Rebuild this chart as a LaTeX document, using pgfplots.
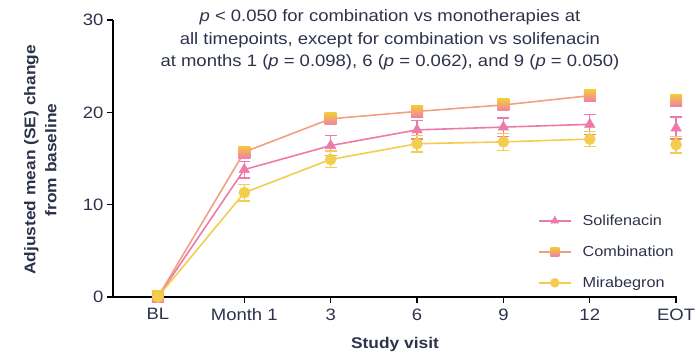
\documentclass[border=0pt]{standalone}
\usepackage{pgfplots}
\pgfplotsset{compat=1.18}
\usepackage{fontspec}
\setmainfont{Liberation Sans}[FakeStretch=1.12]
\definecolor{solpink}{RGB}{238,122,170}
\definecolor{combline}{RGB}{242,160,130}
\definecolor{combyellow}{RGB}{246,200,60}
\definecolor{combpink}{RGB}{240,128,165}
\definecolor{miryellow}{RGB}{242,205,80}
\definecolor{txt}{RGB}{45,50,75}
\pgfdeclareverticalshading{sqshade}{100bp}{color(0bp)=(combpink); color(25bp)=(combpink); color(75bp)=(combyellow); color(100bp)=(combyellow)}
\pgfdeclareplotmark{gsquare}{%
  \pgfpathrectangle{\pgfpoint{-\pgfplotmarksize}{-\pgfplotmarksize}}{\pgfpoint{2\pgfplotmarksize}{2\pgfplotmarksize}}%
  \pgfshadepath{sqshade}{0}%
  \pgfusepath{discard}}
\begin{document}
\begin{tikzpicture}
\useasboundingbox (0,0) rectangle (697pt,358pt);
\begin{axis}[
  at={(113pt,61pt)}, anchor=south west,
  scale only axis, width=564pt, height=277pt,
  xmin=-0.52, xmax=6.01, ymin=0, ymax=30,
  clip=false,
  axis x line*=bottom, axis y line*=left,
  axis line style={line width=1.4pt, black},
  xtick={1,2,3,4,5,6},
  xticklabels={Month 1,3,6,9,12,EOT},
  extra x ticks={0}, extra x tick labels={BL},
  extra x tick style={major tick style={draw opacity=0}},
  ytick={0,10,20,30},
  tick style={line width=1.4pt, black},
  major tick length=6pt,
  tick align=outside,
  /pgf/number format/assume math mode=true,
  tick label style={font=\fontsize{16.5}{19}\selectfont, text=txt},
  xticklabel style={yshift=-2pt},
  ylabel={Adjusted mean (SE) change\\from baseline},
  ylabel style={at={(axis description cs:-0.129,0.495)}, anchor=center, align=center, font=\bfseries\fontsize{15.5}{21}\selectfont, text=txt},
  xlabel={Study visit},
  xlabel style={at={(axis description cs:0.5,-0.173)}, anchor=center, font=\bfseries\fontsize{15.5}{19}\selectfont, text=txt},
  legend style={draw=none, fill=none, at={(axis description cs:0.748,0.312)}, anchor=north west, font=\fontsize{14.5}{17}\selectfont, text=txt, row sep=15pt,
    /tikz/every odd column/.append style={column sep=9pt}},
  legend cell align=left,
  legend image code/.code={\draw[mark repeat=2, mark phase=2, #1, line width=1.6pt, mark size=4.5pt] plot coordinates {(0cm,0cm) (0.56cm,0cm) (1.12cm,0cm)};},
  error bars/y dir=both, error bars/y explicit,
]
\addplot[solpink, line width=1.6pt, mark=triangle*, mark size=6pt, mark options={solid, fill=solpink, draw=solpink, line width=0.5pt},
  error bars/error bar style={line width=1.3pt, solpink},
  error bars/error mark options={rotate=90, mark size=6pt, line width=1.3pt, solpink}]
  coordinates {(0,0) +- (0,0) (1,13.8) +- (0,0.9) (2,16.4) +- (0,1.1) (3,18.1) +- (0,1.0) (4,18.4) +- (0,1.0) (5,18.7) +- (0,1.1)};
\addlegendentry{Solifenacin}
\addplot[combline, line width=1.6pt, mark=gsquare, mark size=6pt, error bars/y dir=none]
  coordinates {(0,0) (1,15.7) (2,19.3) (3,20.1) (4,20.8) (5,21.8)};
\addlegendentry{Combination}
\addplot[miryellow, line width=1.6pt, mark=*, mark size=5.5pt, mark options={solid, fill=miryellow, draw=miryellow, line width=0.5pt},
  error bars/error bar style={line width=1.3pt, miryellow},
  error bars/error mark options={rotate=90, mark size=6pt, line width=1.3pt, miryellow}]
  coordinates {(0,0) +- (0,0) (1,11.3) +- (0,0.9) (2,14.9) +- (0,0.9) (3,16.6) +- (0,0.9) (4,16.8) +- (0,0.9) (5,17.1) +- (0,0.8)};
\addlegendentry{Mirabegron}
% EOT points (not connected)
\addplot[forget plot, only marks, solpink, mark=triangle*, mark size=6pt, mark options={fill=solpink, draw=solpink, line width=0.5pt},
  error bars/error bar style={line width=1.3pt, solpink},
  error bars/error mark options={rotate=90, mark size=6pt, line width=1.3pt, solpink}]
  coordinates {(6,18.3) +- (0,1.2)};
\addplot[forget plot, only marks, mark=gsquare, mark size=6pt, error bars/y dir=none]
  coordinates {(6,21.3)};
\addplot[forget plot, only marks, miryellow, mark=*, mark size=5.5pt, mark options={fill=miryellow, draw=miryellow, line width=0.5pt},
  error bars/error bar style={line width=1.3pt, miryellow},
  error bars/error mark options={rotate=90, mark size=6pt, line width=1.3pt, miryellow}]
  coordinates {(6,16.5) +- (0,0.9)};
\node[align=center, text=txt, font=\fontsize{16.5}{22.5}\selectfont] at (axis description cs:0.491,0.928)
  {\textit{p} < 0.050 for combination vs monotherapies at\\
   all timepoints, except for combination vs solifenacin\\
   at months 1 (\textit{p} = 0.098), 6 (\textit{p} = 0.062), and 9 (\textit{p} = 0.050)};
\end{axis}
\end{tikzpicture}
\end{document}
